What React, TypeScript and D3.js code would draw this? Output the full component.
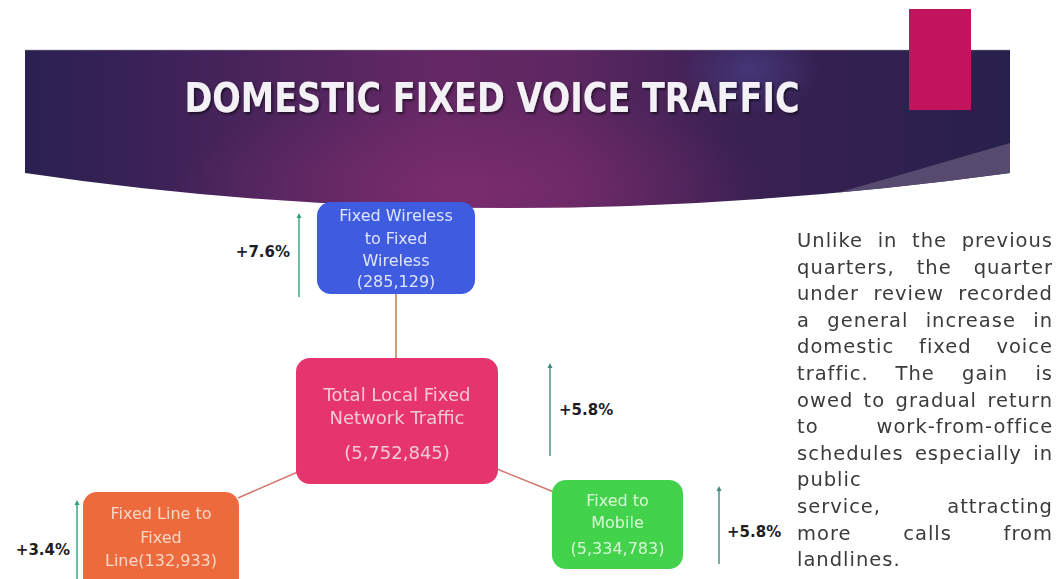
import React, { useMemo } from "react";
import * as d3 from "d3";

// ---------- data ----------
const title = "DOMESTIC FIXED VOICE TRAFFIC";
const nodeIds = ["total", "wireless", "fixedLine", "mobile"];
const nodeNameLines = [
  ["Total Local Fixed", "Network Traffic"],
  ["Fixed Wireless", "to Fixed", "Wireless"],
  ["Fixed Line to", "Fixed", "Line"],
  ["Fixed to", "Mobile"],
];
const nodeValues = [5752845, 285129, 132933, 5334783];
const nodeGrowth = [5.8, 7.6, 3.4, 5.8];
const commentaryLines = [
  "Unlike in the previous",
  "quarters, the quarter",
  "under review recorded",
  "a general increase in",
  "domestic fixed voice",
  "traffic. The gain is",
  "owed to gradual return",
  "to work-from-office",
  "schedules especially in",
  "public",
  "service, attracting",
  "more calls from",
  "landlines.",
];
const commentaryLeftAligned = ["public", "landlines."];

// ---------- layout ----------
const W = 1059;
const H = 579;
const FONT = "'DejaVu Sans', sans-serif";

type Box = {
  x: number; y: number; w: number; h: number; fill: string; text: string; fs: number;
  lineY: number[]; inlineValue: boolean;
  arrowX: number; arrowTop: number; arrowBottom: number; arrowColor: string;
  labelX: number; labelY: number; labelAnchor: "start" | "end";
};

const layout: Record<string, Box> = {
  total: {
    x: 296, y: 358, w: 202, h: 126, fill: "#e6356c", text: "#f6c9d8", fs: 18,
    lineY: [395, 418, 453], inlineValue: false,
    arrowX: 550, arrowTop: 363, arrowBottom: 456, arrowColor: "#3f8c82",
    labelX: 559, labelY: 410, labelAnchor: "start",
  },
  wireless: {
    x: 317, y: 202, w: 158, h: 92, fill: "#3f5ce0", text: "#dfe4ff", fs: 16,
    lineY: [215, 238, 260, 281], inlineValue: false,
    arrowX: 299, arrowTop: 213, arrowBottom: 297, arrowColor: "#2fa175",
    labelX: 290, labelY: 252, labelAnchor: "end",
  },
  fixedLine: {
    x: 83, y: 492, w: 156, h: 110, fill: "#ec6a3c", text: "#fcd6c7", fs: 16,
    lineY: [513, 537, 560], inlineValue: true,
    arrowX: 77, arrowTop: 500, arrowBottom: 585, arrowColor: "#2fa175",
    labelX: 70, labelY: 550, labelAnchor: "end",
  },
  mobile: {
    x: 552, y: 480, w: 131, h: 89, fill: "#42d24b", text: "#d9f7d6", fs: 16,
    lineY: [500, 522, 548], inlineValue: false,
    arrowX: 719, arrowTop: 486, arrowBottom: 564, arrowColor: "#3f8c82",
    labelX: 727, labelY: 532, labelAnchor: "start",
  },
};

const connectors: [number, number, number, number, string][] = [
  [396, 294, 396, 358, "#b87b55"],
  [300, 471, 238, 498, "#d4766b"],
  [497, 469, 554, 492, "#d4766b"],
];

const TEXT_LEFT = 797;
const TEXT_RIGHT = 1053;
const TEXT_TOP = 240;
const TEXT_STEP = 26.6;
const TEXT_FS = 19.5;
const TEXT_LS = 1.0;

const fmt = d3.format(",");
const pct = (v: number) => `+${d3.format(".1f")(v)}%`;

export default function App() {
  const justified = useMemo(() => {
    const canvas = document.createElement("canvas");
    const ctx = canvas.getContext("2d")!;
    ctx.font = `${TEXT_FS}px 'DejaVu Sans'`;
    const measure = (s: string) => ctx.measureText(s).width + s.length * TEXT_LS;
    const spaceW = measure(" ");
    return commentaryLines.map((line, i) => {
      const words = line.split(" ");
      const widths = words.map(measure);
      const total = d3.sum(widths);
      const avail = TEXT_RIGHT - TEXT_LEFT;
      const left = commentaryLeftAligned.includes(line) || words.length < 2;
      const gap = left ? spaceW : (avail - total) / (words.length - 1);
      let x = TEXT_LEFT;
      const placed = words.map((w, k) => {
        const p = { word: w, x };
        x += widths[k] + gap;
        return p;
      });
      return { y: TEXT_TOP + i * TEXT_STEP, placed };
    });
  }, []);

  // header band shape
  const bandL = 25, bandR = 1010, bandTop = 50, bandEdge = 173;
  const bandPath = `M${bandL},${bandTop} L${bandR},${bandTop} L${bandR},${bandEdge} Q${(bandL + bandR) / 2 - 20},${243} ${bandL},${bandEdge} Z`;

  return (
    <svg
      width={W}
      height={H}
      style={{ position: "absolute", left: 0, top: 0, background: "#ffffff" }}
      fontFamily={FONT}
    >
      <defs>
        <linearGradient id="bandGrad" x1="0" x2="1" y1="0" y2="0">
          <stop offset="0" stopColor="#2a2150" />
          <stop offset="0.12" stopColor="#3a2256" />
          <stop offset="0.42" stopColor="#642865" />
          <stop offset="0.55" stopColor="#5e2762" />
          <stop offset="0.72" stopColor="#3a2153" />
          <stop offset="1" stopColor="#28204c" />
        </linearGradient>
        <radialGradient id="glow" cx="0.5" cy="0.5" r="0.5">
          <stop offset="0" stopColor="#8a2f72" stopOpacity="0.6" />
          <stop offset="1" stopColor="#8a2f72" stopOpacity="0" />
        </radialGradient>
        <radialGradient id="haze" cx="0.5" cy="0.5" r="0.5">
          <stop offset="0" stopColor="#4c4590" stopOpacity="0.6" />
          <stop offset="1" stopColor="#4c4590" stopOpacity="0" />
        </radialGradient>
        <clipPath id="bandClip">
          <path d={bandPath} />
        </clipPath>
        <filter id="titleShadow" x="-5%" y="-30%" width="110%" height="160%">
          <feDropShadow dx="1.5" dy="2" stdDeviation="1.2" floodColor="#000" floodOpacity="0.55" />
        </filter>
        <filter id="soft">
          <feGaussianBlur stdDeviation="0.4" />
        </filter>
      </defs>

      {/* header band */}
      <path d={bandPath} fill="url(#bandGrad)" />
      <g clipPath="url(#bandClip)">
        <ellipse cx={470} cy={190} rx={300} ry={100} fill="url(#glow)" />
        <ellipse cx={750} cy={70} rx={70} ry={45} fill="url(#haze)" />
        <path d={`M${bandR},${143} Q${890},${178} ${760},${215} L${bandR},${215} Z`} fill="#5b5072" opacity={0.9} />
      </g>
      <line x1={bandL} x2={bandR} y1={bandTop} y2={bandTop} stroke="#9a9aa8" strokeWidth={1.2} opacity={0.5} />
      <rect x={909} y={9} width={62} height={101} fill="#c2145d" />
      <text
        x={492}
        y={112}
        textAnchor="middle"
        fill="#f4f1f6"
        fontWeight="bold"
        fontSize={40}
        textLength={615}
        lengthAdjust="spacingAndGlyphs"
        filter="url(#titleShadow)"
      >
        {title}
      </text>

      {/* connectors */}
      {connectors.map(([x1, y1, x2, y2, c], i) => (
        <line key={i} x1={x1} y1={y1} x2={x2} y2={y2} stroke={c} strokeWidth={1.5} />
      ))}

      {/* nodes */}
      {nodeIds.map((id, i) => {
        const b = layout[id];
        const lines = [...nodeNameLines[i]];
        const v = `(${fmt(nodeValues[i])})`;
        if (b.inlineValue) lines[lines.length - 1] = lines[lines.length - 1] + v;
        else lines.push(v);
        return (
          <g key={id}>
            <rect x={b.x} y={b.y} width={b.w} height={b.h} rx={14} fill={b.fill} />
            {lines.map((t, k) => (
              <text
                key={k}
                x={b.x + b.w / 2}
                y={b.lineY[k]}
                dy="0.36em"
                textAnchor="middle"
                fontSize={b.fs}
                fill={b.text}
                filter="url(#soft)"
              >
                {t}
              </text>
            ))}
          </g>
        );
      })}

      {/* growth arrows */}
      {nodeIds.map((id, i) => {
        const b = layout[id];
        return (
          <g key={"a" + id}>
            <line x1={b.arrowX} x2={b.arrowX} y1={b.arrowTop + 3} y2={b.arrowBottom} stroke={b.arrowColor} strokeWidth={1.4} />
            <path
              d={`M${b.arrowX},${b.arrowTop} L${b.arrowX - 2.5},${b.arrowTop + 5} L${b.arrowX + 2.5},${b.arrowTop + 5} Z`}
              fill={b.arrowColor}
            />
            <text
              x={b.labelX}
              y={b.labelY}
              dy="0.36em"
              textAnchor={b.labelAnchor}
              fontSize={15}
              fontWeight="bold"
              fill="#1e1e1e"
            >
              {pct(nodeGrowth[i])}
            </text>
          </g>
        );
      })}

      {/* commentary */}
      <g fontSize={TEXT_FS} fill="#3a3a3a" filter="url(#soft)" letterSpacing={TEXT_LS}>
        {justified.map((ln, i) =>
          ln.placed.map((p, k) => (
            <text key={i + "-" + k} x={p.x} y={ln.y} dy="0.36em">
              {p.word}
            </text>
          ))
        )}
      </g>
    </svg>
  );
}
